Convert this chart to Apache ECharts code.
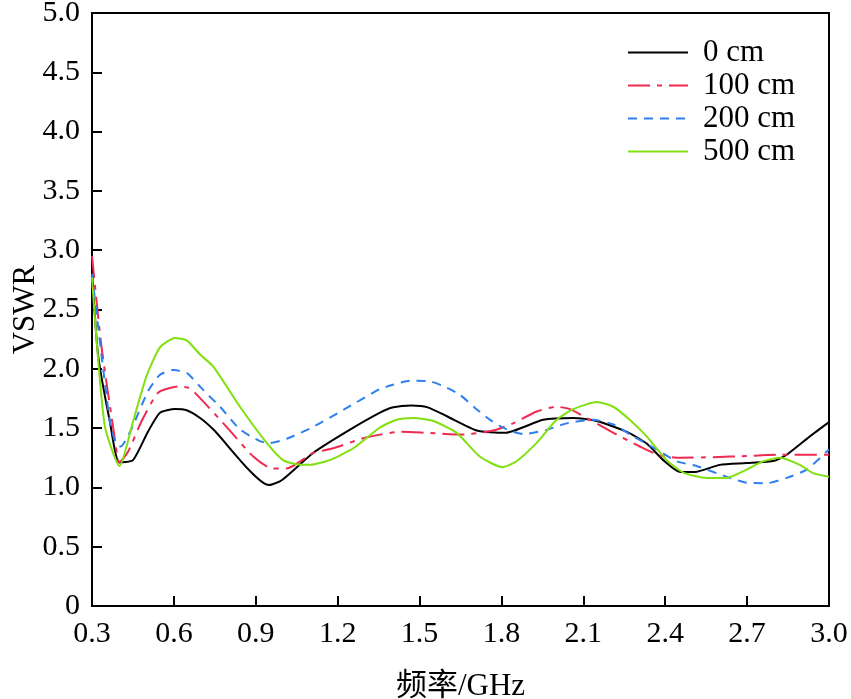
<!DOCTYPE html>
<html>
<head>
<meta charset="utf-8">
<script src="https://cdn.jsdelivr.net/npm/echarts@6/dist/echarts.min.js"></script>
<style>html,body{margin:0;padding:0;background:#fff}#c{width:851px;height:699px}</style>
</head>
<body>
<div id="c"></div>
<script>
const seriesNames = ['0 cm', '100 cm', '200 cm', '500 cm'];
const xTicks = ['0.3','0.6','0.9','1.2','1.5','1.8','2.1','2.4','2.7','3.0'];
const yTicks = ['0','0.5','1.0','1.5','2.0','2.5','3.0','3.5','4.0','4.5','5.0'];

const x0 = [0.300,0.322,0.365,0.400,0.450,0.505,0.549,0.604,0.647,0.696,0.744,0.949,0.995,1.110,1.233,1.355,1.404,1.470,1.530,1.600,1.709,1.813,1.953,2.063,2.149,2.258,2.332,2.393,2.454,2.509,2.600,2.698,2.800,2.845,2.930,3.000];
const y0 = [2.85,2.12,1.56,1.21,1.23,1.47,1.63,1.66,1.65,1.585,1.49,1.02,1.06,1.29,1.47,1.63,1.675,1.69,1.675,1.60,1.48,1.46,1.57,1.585,1.56,1.47,1.37,1.23,1.13,1.13,1.19,1.205,1.225,1.275,1.43,1.55];

const x100 = [0.300,0.334,0.383,0.400,0.432,0.482,0.543,0.616,0.653,0.689,0.793,0.891,0.958,1.013,1.110,1.184,1.294,1.355,1.428,1.526,1.660,1.770,1.843,1.929,2.002,2.051,2.112,2.210,2.307,2.380,2.454,2.576,2.698,2.820,3.000];
const y100 = [2.95,2.20,1.42,1.21,1.30,1.56,1.80,1.85,1.84,1.77,1.51,1.26,1.16,1.16,1.29,1.33,1.415,1.445,1.47,1.46,1.445,1.48,1.54,1.64,1.68,1.66,1.585,1.46,1.345,1.27,1.25,1.255,1.265,1.275,1.275];

const x200 = [0.300,0.365,0.389,0.405,0.444,0.505,0.549,0.598,0.647,0.708,0.769,0.842,0.915,0.952,1.013,1.110,1.233,1.355,1.380,1.465,1.538,1.600,1.648,1.703,1.758,1.819,1.880,1.965,2.038,2.136,2.210,2.283,2.368,2.442,2.515,2.637,2.698,2.771,2.845,2.918,3.000];
const y200 = [2.80,1.56,1.36,1.345,1.49,1.81,1.95,1.99,1.965,1.82,1.68,1.49,1.39,1.375,1.41,1.51,1.67,1.83,1.85,1.90,1.895,1.84,1.78,1.67,1.57,1.49,1.45,1.485,1.54,1.57,1.53,1.43,1.32,1.22,1.18,1.08,1.04,1.035,1.08,1.15,1.32];

const x500 = [0.300,0.346,0.401,0.451,0.500,0.549,0.604,0.647,0.696,0.744,0.842,0.940,1.000,1.050,1.098,1.170,1.257,1.355,1.416,1.477,1.550,1.636,1.721,1.804,1.855,1.929,2.002,2.063,2.149,2.210,2.270,2.332,2.405,2.466,2.551,2.624,2.698,2.759,2.820,2.893,2.942,3.000];
const y500 = [2.77,1.53,1.18,1.56,1.94,2.18,2.26,2.24,2.12,2.02,1.68,1.375,1.23,1.195,1.19,1.23,1.33,1.505,1.57,1.585,1.56,1.46,1.26,1.17,1.22,1.375,1.57,1.66,1.72,1.68,1.57,1.43,1.23,1.125,1.08,1.08,1.15,1.22,1.25,1.19,1.12,1.09];

const pairs = (xs, ys) => xs.map((x, i) => [x, ys[i]]);
const FONT = "'Liberation Serif', 'Times New Roman', 'Noto Sans CJK SC', serif";

const chart = echarts.init(document.getElementById('c'), null, {renderer: 'canvas'});
const mk = (name, data, color, type) => ({
  name, type: 'line', data, showSymbol: false, symbol: 'none', smooth: 0.2,
  lineStyle: {color, width: 2, type}, itemStyle: {color}
});
chart.setOption({
  backgroundColor: '#fff',
  animation: false,
  grid: {left: 92, right: 22, top: 13, bottom: 93, show: true, borderColor: '#000', borderWidth: 2,
         containLabel: false, outerBoundsMode: 'none'},
  legend: {
    orient: 'vertical', left: 627, top: 36, padding: 0, itemWidth: 60, itemHeight: 14, itemGap: 0,
    data: seriesNames,
    itemStyle: {color: 'transparent', borderColor: 'transparent', borderWidth: 0, opacity: 0},
    textStyle: {fontFamily: FONT, fontSize: 31, color: '#000', lineHeight: 33, padding: [0, 0, 0, 10]}
  },
  xAxis: {
    type: 'value', min: 0.3, max: 3.0, interval: 0.3,
    name: '频率/GHz', nameLocation: 'middle', nameGap: 65,
    nameTextStyle: {fontFamily: FONT, fontSize: 31, color: '#000'},
    axisLine: {lineStyle: {color: '#000', width: 2}},
    axisTick: {inside: true, length: 10, lineStyle: {color: '#000', width: 2}},
    axisLabel: {fontFamily: FONT, fontSize: 30, color: '#000', margin: 13,
      formatter: v => xTicks[Math.round((v - 0.3) / 0.3)] ?? v.toFixed(1)},
    splitLine: {show: false}
  },
  yAxis: {
    type: 'value', min: 0, max: 5, interval: 0.5,
    name: 'VSWR', nameLocation: 'middle', nameGap: 51, nameMoveOverlap: false,
    nameTextStyle: {fontFamily: FONT, fontSize: 31, color: '#000'},
    axisLine: {lineStyle: {color: '#000', width: 2}},
    axisTick: {inside: true, length: 10, lineStyle: {color: '#000', width: 2}},
    axisLabel: {fontFamily: FONT, fontSize: 30, color: '#000', margin: 12,
      formatter: v => yTicks[Math.round(v / 0.5)] ?? String(v)},
    splitLine: {show: false}
  },
  series: [
    mk(seriesNames[0], pairs(x0, y0), '#000000', 'solid'),
    mk(seriesNames[1], pairs(x100, y100), '#ee2a50', [22, 7, 5, 7]),
    mk(seriesNames[2], pairs(x200, y200), '#2f7fef', [9, 7]),
    mk(seriesNames[3], pairs(x500, y500), '#80e010', 'solid')
  ]
});
</script>
</body>
</html>
